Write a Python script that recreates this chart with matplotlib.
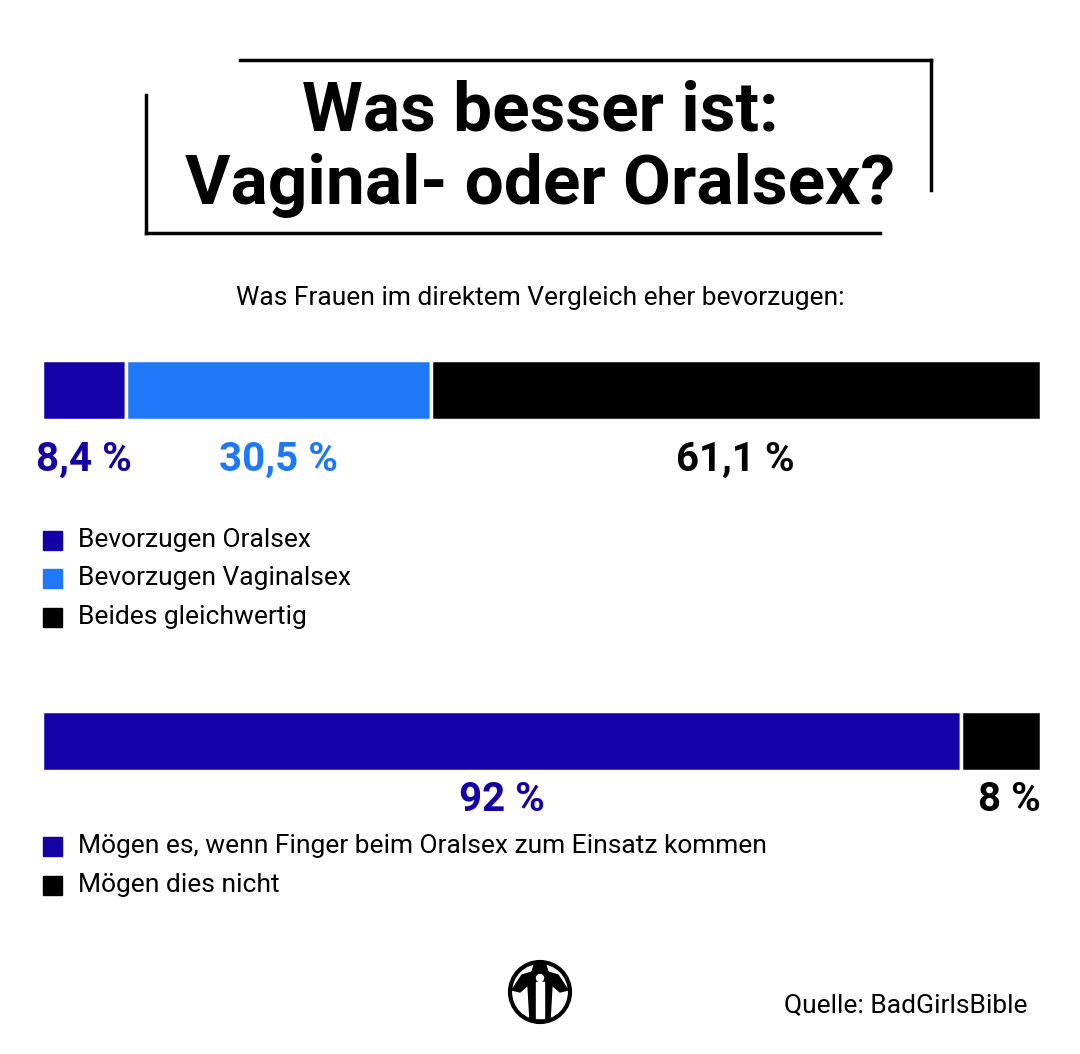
import numpy as np
import matplotlib.pyplot as plt
from matplotlib.patches import Circle, Rectangle, Polygon

# data
prefs_labels = ['Bevorzugen Oralsex', 'Bevorzugen Vaginalsex', 'Beides gleichwertig']
prefs_values = [8.4, 30.5, 61.1]
prefs_text = ['8,4 %', '30,5 %', '61,1 %']
prefs_colors = ['#1500a8', '#1f78f7', '#000000']

finger_labels = ['Mögen es, wenn Finger beim Oralsex zum Einsatz kommen', 'Mögen dies nicht']
finger_values = [92, 8]
finger_text = ['92 %', '8 %']
finger_colors = ['#1500a8', '#000000']

plt.rcParams['font.family'] = ['Roboto', 'DejaVu Sans']

fig = plt.figure(figsize=(10.8, 10.54), dpi=100)
ax = fig.add_axes([0, 0, 1, 1])
ax.set_xlim(0, 1080)
ax.set_ylim(1054, 0)
ax.axis('off')

# title frame
ax.plot([240, 931], [60, 60], color='black', lw=2.5)
ax.plot([931, 931], [60, 190], color='black', lw=2.5)
ax.plot([146, 880], [233, 233], color='black', lw=2.5)
ax.plot([146, 146], [95, 233], color='black', lw=2.5)

ax.text(540, 112, 'Was besser ist:', ha='center', va='center', fontsize=50,
        fontweight='bold')
ax.text(540, 185, 'Vaginal- oder Oralsex?', ha='center', va='center', fontsize=50,
        fontweight='bold')

ax.text(540, 298, 'Was Frauen im direktem Vergleich eher bevorzugen:', ha='center',
        va='center', fontsize=19)

x0, x1 = 42, 1041
scale = (x1 - x0) / 100.0


def stacked(values, texts, colors, yc, h, ty, aligns):
    left = x0
    for v, t, c, al in zip(values, texts, colors, aligns):
        w = v * scale
        ax.barh(yc, w, left=left, height=h, color=c, edgecolor='white', linewidth=2.5)
        if al == 'right':
            tx = left + w
        else:
            tx = left + w / 2
        ax.text(tx, ty, t, ha=al, va='center', fontsize=29, fontweight='bold', color=c)
        left += w


stacked(prefs_values, prefs_text, prefs_colors, 390, 60, 460, ['center'] * 3)
stacked(finger_values, finger_text, finger_colors, 741, 60, 800, ['center', 'right'])


def legend(labels, colors, ys):
    for lab, c, y in zip(labels, colors, ys):
        ax.add_patch(Rectangle((43, y - 9), 19, 19, color=c))
        ax.text(78, y, lab, ha='left', va='center', fontsize=19)


legend(prefs_labels, prefs_colors, [540, 578, 617])
legend(finger_labels, finger_colors, [846, 885])

# logo
ax.add_patch(Circle((540, 992), 30, fill=False, edgecolor='black', lw=3))
ax.add_patch(Polygon([(512, 990), (522, 975), (532, 972), (535, 962), (545, 962),
                      (548, 972), (558, 975), (568, 990), (560, 992), (552, 985),
                      (550, 1020), (530, 1020), (528, 985), (520, 992)],
                     closed=True, color='black'))
ax.add_patch(Rectangle((536, 982), 8, 36, color='white'))
ax.add_patch(Circle((540, 978), 3.5, color='white'))

ax.text(1027, 1005, 'Quelle: BadGirlsBible', ha='right', va='center', fontsize=19)

fig.savefig('out.png', dpi=100, facecolor='white')
